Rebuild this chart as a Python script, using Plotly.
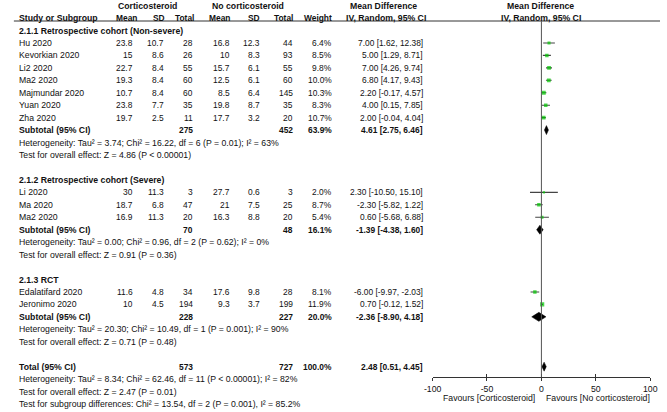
import plotly.graph_objects as go

# ---------------- data ----------------
group_titles = ["2.1.1 Retrospective cohort (Non-severe)",
                "2.1.2 Retrospective cohort (Severe)",
                "2.1.3 RCT"]

study_names = [
    ["Hu 2020", "Kevorkian 2020", "Li2 2020", "Ma2 2020", "Majmundar 2020", "Yuan 2020", "Zha 2020"],
    ["Li 2020", "Ma 2020", "Ma2 2020"],
    ["Edalatifard 2020", "Jeronimo 2020"],
]
cort_mean = [[23.8, 15, 22.7, 19.3, 10.7, 23.8, 19.7], [30, 18.7, 16.9], [11.6, 10]]
cort_sd = [[10.7, 8.6, 8.4, 8.4, 8.4, 7.7, 2.5], [11.3, 6.8, 11.3], [4.8, 4.5]]
cort_n = [[28, 26, 55, 60, 60, 35, 11], [3, 47, 20], [34, 194]]
ctrl_mean = [[16.8, 10, 15.7, 12.5, 8.5, 19.8, 17.7], [27.7, 21, 16.3], [17.6, 9.3]]
ctrl_sd = [[12.3, 8.3, 6.1, 6.1, 6.4, 8.7, 3.2], [0.6, 7.5, 8.8], [9.8, 3.7]]
ctrl_n = [[44, 93, 55, 60, 145, 35, 20], [3, 25, 20], [28, 199]]
weight = [[6.4, 8.5, 9.8, 10.0, 10.3, 8.3, 10.7], [2.0, 8.7, 5.4], [8.1, 11.9]]
md = [[7.00, 5.00, 7.00, 6.80, 2.20, 4.00, 2.00], [2.30, -2.30, 0.60], [-6.00, 0.70]]
md_lo = [[1.62, 1.29, 4.26, 4.17, -0.17, 0.15, -0.04], [-10.50, -5.82, -5.68], [-9.97, -0.12]]
md_hi = [[12.38, 8.71, 9.74, 9.43, 4.57, 7.85, 4.04], [15.10, 1.22, 6.88], [-2.03, 1.52]]

sub_cort_n = [275, 70, 228]
sub_ctrl_n = [452, 48, 227]
sub_weight = [63.9, 16.1, 20.0]
sub_md = [4.61, -1.39, -2.36]
sub_lo = [2.75, -4.38, -8.90]
sub_hi = [6.46, 1.60, 4.18]
sub_het = ["Heterogeneity: Tau² = 3.74; Chi² = 16.22, df = 6 (P = 0.01); I² = 63%",
           "Heterogeneity: Tau² = 0.00; Chi² = 0.96, df = 2 (P = 0.62); I² = 0%",
           "Heterogeneity: Tau² = 20.30; Chi² = 10.49, df = 1 (P = 0.001); I² = 90%"]
sub_test = ["Test for overall effect: Z = 4.86 (P < 0.00001)",
            "Test for overall effect: Z = 0.91 (P = 0.36)",
            "Test for overall effect: Z = 0.71 (P = 0.48)"]

total_cort_n = 573
total_ctrl_n = 727
total_weight = 100.0
total_md, total_lo, total_hi = 2.48, 0.51, 4.45
total_notes = ["Heterogeneity: Tau² = 8.34; Chi² = 62.46, df = 11 (P < 0.00001); I² = 82%",
               "Test for overall effect: Z = 2.47 (P = 0.01)",
               "Test for subgroup differences: Chi² = 13.54, df = 2 (P = 0.001), I² = 85.2%"]

axis_ticks = [-100, -50, 0, 50, 100]
axis_ticktext = ["-100", "-50", "0", "50", "100"]
favours_left = "Favours [Corticosteroid]"
favours_right = "Favours [No corticosteroid]"

# ---------------- layout helpers ----------------
W, H = 667, 412
ROW0, ROWH = 30.5, 12.45
def ry(r):
    return ROW0 + ROWH * r

FONT = "Liberation Sans, Arial, sans-serif"
FS = 8.7      # text
FN = 8.4      # numbers
annotations = []
def txt(x, y, s, anchor="left", bold=False, size=FS):
    annotations.append(dict(
        x=x, y=y, xref="x", yref="y", text=("<b>%s</b>" % s) if bold else s,
        showarrow=False, xanchor=anchor, yanchor="middle",
        borderpad=0, borderwidth=0,
        font=dict(family=FONT, size=size, color="#111")))

COL_NAME = 10
COL_VALS = [127, 159, 189, 226, 257, 291, 331]
COL_CI = 424

def fmt(v):
    return "%g" % v

# headers
txt(141.5, ry(-2), "Corticosteroid", "center", True)
txt(245, ry(-2), "No corticosteroid", "center", True)
txt(384, ry(-2), "Mean Difference", "center", True)
txt(545, ry(-2), "Mean Difference", "center", True)
txt(COL_NAME, ry(-1), "Study or Subgroup", "left", True)
for x, h in zip([131, 160, 190, 226, 257, 291, 331], ["Mean", "SD", "Total", "Mean", "SD", "Total", "Weight"]):
    txt(x, ry(-1), h, "right", True, FN)
txt(427, ry(-1), "IV, Random, 95% CI", "right", True)
txt(545, ry(-1), "IV, Random, 95% CI", "center", True)

fig = go.Figure()

ci_x, ci_y = [], []
sq_x, sq_y, sq_s = [], [], []
row = 0
for g in range(3):
    txt(COL_NAME, ry(row), group_titles[g], "left", True)
    row += 1
    for i, name in enumerate(study_names[g]):
        y = ry(row)
        txt(COL_NAME, y, name)
        vals = [fmt(cort_mean[g][i]), fmt(cort_sd[g][i]), str(cort_n[g][i]),
                fmt(ctrl_mean[g][i]), fmt(ctrl_sd[g][i]), str(ctrl_n[g][i]),
                "%.1f%%" % weight[g][i]]
        for x, v in zip(COL_VALS, vals):
            txt(x, y, v, "right", False, FN)
        txt(COL_CI, y, "%.2f [%.2f, %.2f]" % (md[g][i], md_lo[g][i], md_hi[g][i]), "right", False, FN)
        ci_x += [md_lo[g][i], md_hi[g][i], None]
        ci_y += [y, y, None]
        sq_x.append(md[g][i]); sq_y.append(y); sq_s.append(1.8 + 0.2 * weight[g][i])
        row += 1
    y = ry(row)
    txt(COL_NAME, y, "Subtotal (95% CI)", "left", True)
    txt(COL_VALS[2], y, str(sub_cort_n[g]), "right", True, FN)
    txt(COL_VALS[5], y, str(sub_ctrl_n[g]), "right", True, FN)
    txt(COL_VALS[6], y, "%.1f%%" % sub_weight[g], "right", True, FN)
    txt(COL_CI, y, "%.2f [%.2f, %.2f]" % (sub_md[g], sub_lo[g], sub_hi[g]), "right", True, FN)
    fig.add_trace(go.Scatter(
        x=[sub_lo[g], sub_md[g], sub_hi[g], sub_md[g], sub_lo[g]],
        y=[y, y - 4.5, y, y + 4.5, y],
        xaxis="x2", yaxis="y", mode="lines", fill="toself",
        fillcolor="#000", line=dict(color="#000", width=0.5),
        hoverinfo="skip", showlegend=False))
    row += 1
    txt(COL_NAME, ry(row), sub_het[g]); row += 1
    txt(COL_NAME, ry(row), sub_test[g]); row += 2

# total
y = ry(row)
txt(COL_NAME, y, "Total (95% CI)", "left", True)
txt(COL_VALS[2], y, str(total_cort_n), "right", True, FN)
txt(COL_VALS[5], y, str(total_ctrl_n), "right", True, FN)
txt(COL_VALS[6], y, "%.1f%%" % total_weight, "right", True, FN)
txt(COL_CI, y, "%.2f [%.2f, %.2f]" % (total_md, total_lo, total_hi), "right", True, FN)
fig.add_trace(go.Scatter(
    x=[total_lo, total_md, total_hi, total_md, total_lo],
    y=[y, y - 4.5, y, y + 4.5, y],
    xaxis="x2", yaxis="y", mode="lines", fill="toself",
    fillcolor="#000", line=dict(color="#000", width=0.5),
    hoverinfo="skip", showlegend=False))
row += 1
for note in total_notes:
    txt(COL_NAME, ry(row), note); row += 1

# CI lines and squares
fig.add_trace(go.Scatter(x=ci_x, y=ci_y, xaxis="x2", yaxis="y", mode="lines",
                         line=dict(color="#444", width=1.1), hoverinfo="skip", showlegend=False))
fig.add_trace(go.Scatter(x=sq_x, y=sq_y, xaxis="x2", yaxis="y", mode="markers",
                         marker=dict(symbol="square", size=sq_s, color="#00c800", line=dict(width=0)),
                         hoverinfo="skip", showlegend=False))
fig.add_trace(go.Scatter(x=[None], y=[None], xaxis="x3", yaxis="y", showlegend=False, hoverinfo="skip"))

AXIS_Y = 377.3
# favours labels
txt(539, 398, favours_left, "right")
txt(550, 398, favours_right, "left")

shapes = [
    dict(type="line", xref="x", yref="y", x0=5, x1=667, y0=21, y1=21, line=dict(color="#333", width=1)),
    dict(type="line", xref="x2", yref="y", x0=0, x1=0, y0=21, y1=AXIS_Y, line=dict(color="#555", width=1)),
]

x2dom = [434 / W, 657 / W]
fig.update_layout(
    width=W, height=H, margin=dict(l=0, r=0, t=0, b=0),
    paper_bgcolor="white", plot_bgcolor="white", showlegend=False,
    xaxis=dict(range=[0, W], domain=[0, 1], visible=False, fixedrange=True),
    yaxis=dict(range=[H, 0], domain=[0, 1], visible=False, fixedrange=True),
    xaxis2=dict(range=[-100, 100], domain=x2dom, anchor="free", position=(H - AXIS_Y) / H,
                tickvals=axis_ticks, ticktext=axis_ticktext, ticks="outside", ticklen=3,
                tickcolor="#333", showline=True, linecolor="#333", linewidth=1,
                showgrid=False, zeroline=False, fixedrange=True,
                tickfont=dict(family=FONT, size=FS, color="#111")),
    xaxis3=dict(range=[-100, 100], domain=x2dom, anchor="free", position=(H - AXIS_Y) / H,
                overlaying="x2", tickvals=axis_ticks, ticks="inside", ticklen=3, tickcolor="#333",
                showticklabels=False, showline=False, showgrid=False, zeroline=False, fixedrange=True),
    annotations=annotations, shapes=shapes,
)

fig.write_html("out.html", config={"displayModeBar": False},
               post_script="document.body.style.margin='0';document.body.style.overflow='hidden';")
